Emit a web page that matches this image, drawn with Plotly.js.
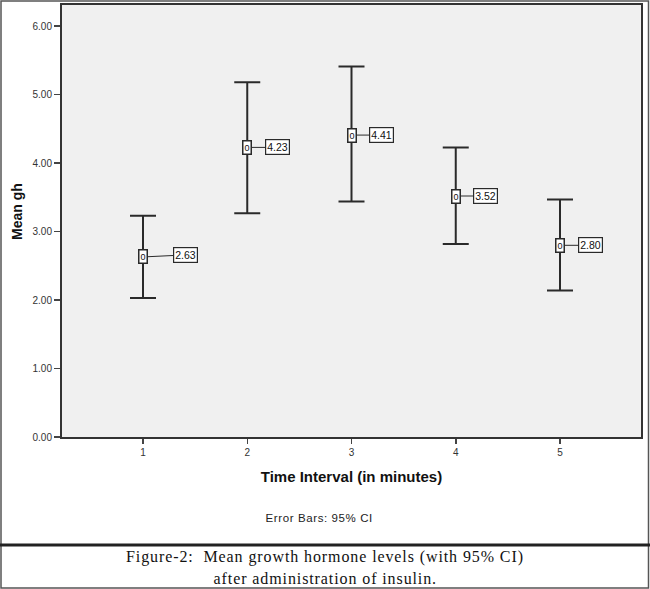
<!DOCTYPE html>
<html>
<head>
<meta charset="utf-8">
<script src="https://cdn.plot.ly/plotly-3.0.1.min.js"></script>
<style>
  html, body { margin: 0; padding: 0; background: #fff; }
  #chart { width: 650px; height: 589px; }
</style>
</head>
<body>
<div id="chart"></div>
<script>
// values
const intervals = [1, 2, 3, 4, 5];
const means = [2.63, 4.23, 4.41, 3.52, 2.80];
const ciUpper = [3.23, 5.18, 5.41, 4.23, 3.47];
const ciLower = [2.03, 3.27, 3.44, 2.82, 2.14];
const yTicks = [0, 1, 2, 3, 4, 5, 6];

// label placement (px offset of the value box from its point)
const labelOffsets = [[42, -2], [30, 0], [30, 0], [30, 0], [30, 0]];

const W = 650;
const H = 589;
const margin = { l: 62, r: 9, t: 5, b: 152 };
const plotW = W - margin.l - margin.r;
const plotH = H - margin.t - margin.b;

// pixel -> paper coordinates, for the frame and the footnotes
const px = (x) => (x - margin.l) / plotW;
const py = (y) => (H - margin.b - y) / plotH;

const ink = '#2a2a2a';
const sans = 'Liberation Sans, Arial, sans-serif';
const serif = 'Liberation Serif, Times New Roman, serif';

const trace = {
  type: 'scatter',
  mode: 'markers',
  x: intervals,
  y: means,
  marker: { size: 1, color: 'rgba(0,0,0,0)' },
  error_y: {
    type: 'data',
    symmetric: false,
    array: means.map((m, i) => ciUpper[i] - m),
    arrayminus: means.map((m, i) => m - ciLower[i]),
    color: ink,
    thickness: 2,
    width: 13
  },
  hoverinfo: 'x+y',
  showlegend: false
};

const valueLabels = means.map((m, i) => ({
  x: intervals[i],
  y: m,
  xref: 'x',
  yref: 'y',
  text: m.toFixed(2),
  showarrow: true,
  arrowhead: 0,
  arrowwidth: 1,
  arrowcolor: ink,
  standoff: 3,
  ax: labelOffsets[i][0],
  ay: labelOffsets[i][1],
  bgcolor: '#ffffff',
  bordercolor: ink,
  borderwidth: 1.2,
  borderpad: 1,
  font: { family: sans, size: 10.5, color: '#111' }
}));

// SPSS point marker: small upright box with a circle inside
const pointMarks = means.map((m, i) => ({
  x: intervals[i],
  y: m,
  xref: 'x',
  yref: 'y',
  text: '0',
  showarrow: false,
  bgcolor: '#ffffff',
  bordercolor: ink,
  borderwidth: 1.5,
  borderpad: 1,
  font: { family: sans, size: 9, color: '#111' }
}));

const notes = [
  {
    x: px(17), y: py(212), xref: 'paper', yref: 'paper',
    xanchor: 'center', yanchor: 'middle', textangle: -90,
    text: '<b>Mean gh</b>', showarrow: false,
    font: { family: sans, size: 14, color: '#111' }
  },
  {
    x: px(319), y: py(518), xref: 'paper', yref: 'paper',
    xanchor: 'center', yanchor: 'middle',
    text: 'Error Bars: 95% CI', showarrow: false,
    font: { family: sans, size: 11.5, color: '#222' }
  },
  {
    x: px(325), y: py(557), xref: 'paper', yref: 'paper',
    xanchor: 'center', yanchor: 'middle',
    text: 'Figure-2:  Mean growth hormone levels (with 95% CI)', showarrow: false,
    font: { family: serif, size: 16, color: '#111' }
  },
  {
    x: px(325), y: py(578), xref: 'paper', yref: 'paper',
    xanchor: 'center', yanchor: 'middle',
    text: 'after administration of insulin.', showarrow: false,
    font: { family: serif, size: 16, color: '#111' }
  }
];

const shapes = [
  {
    type: 'rect', xref: 'paper', yref: 'paper',
    x0: px(1), x1: px(648.5), y0: py(1), y1: py(588),
    line: { color: '#555', width: 1.5 }, fillcolor: 'rgba(0,0,0,0)', layer: 'below'
  },
  {
    type: 'line', xref: 'paper', yref: 'paper',
    x0: px(0), x1: px(650), y0: py(545), y1: py(545),
    line: { color: '#222', width: 3 }
  }
];

const layout = {
  width: W,
  height: H,
  margin,
  paper_bgcolor: '#ffffff',
  plot_bgcolor: '#f0f0f0',
  font: { family: sans, size: 10, color: '#333' },
  xaxis: {
    range: [0.223, 5.777],
    tickvals: intervals,
    ticktext: intervals.map(String),
    ticks: 'outside',
    ticklen: 5,
    tickwidth: 1.5,
    tickcolor: '#444',
    showgrid: false,
    zeroline: false,
    showline: true,
    mirror: true,
    linecolor: '#333',
    linewidth: 2,
    tickfont: { family: sans, size: 10, color: '#333' },
    title: {
      text: '<b>Time Interval (in minutes)</b>',
      font: { family: sans, size: 15, color: '#111' },
      standoff: 14
    }
  },
  yaxis: {
    range: [0, 6.31],
    tickvals: yTicks,
    ticktext: yTicks.map((v) => v.toFixed(2)),
    ticks: 'outside',
    ticklen: 6,
    tickwidth: 1.5,
    tickcolor: '#444',
    showgrid: false,
    zeroline: false,
    showline: true,
    mirror: true,
    linecolor: '#333',
    linewidth: 2,
    tickfont: { family: sans, size: 10, color: '#333' }
  },
  shapes,
  annotations: [...valueLabels, ...pointMarks, ...notes]
};

Plotly.newPlot('chart', [trace], layout, { displayModeBar: false, staticPlot: true }).then((gd) => {
  // the scanned footnotes are set wide; widen the letter spacing to match
  const spacing = { 'Error Bars: 95% CI': '0.6px', 'after administration of insulin.': '0.9px' };
  gd.querySelectorAll('.annotation-text').forEach((t) => {
    const txt = t.textContent;
    if (txt.startsWith('Figure-2')) t.style.letterSpacing = '0.9px';
    else if (spacing[txt]) t.style.letterSpacing = spacing[txt];
  });
});
</script>
</body>
</html>
